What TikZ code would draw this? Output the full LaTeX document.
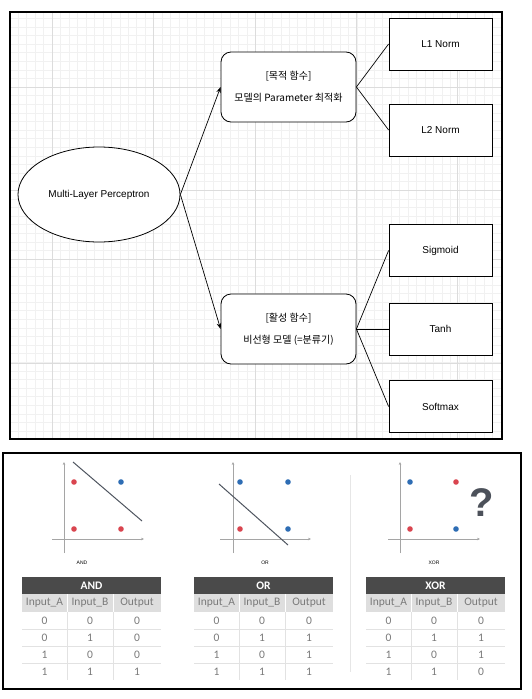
\documentclass[tikz,border=0pt]{standalone}
\usepackage{fontspec}
\setmainfont{Liberation Sans}
\newfontfamily\kr{Noto Sans CJK KR}
\newfontfamily\tb{Carlito}
\usetikzlibrary{shapes.geometric,arrows.meta}
\definecolor{gminor}{HTML}{F1F1F1}
\definecolor{gmajor}{HTML}{DCDCDC}
\definecolor{hdr}{HTML}{4A4A4A}
\definecolor{subbg}{HTML}{DEDEDE}
\definecolor{tbtext}{HTML}{7A7A7A}
\definecolor{sepline}{HTML}{E2E2E2}
\definecolor{dotred}{HTML}{D9454F}
\definecolor{dotblue}{HTML}{2E6DB4}
\definecolor{axisgray}{HTML}{A5A5A5}
\definecolor{sepgray}{HTML}{E6E6E6}
\definecolor{qcol}{HTML}{4C515A}
\definecolor{dline}{HTML}{4F5560}
\newcommand\logictable[7]{%
  \fill[hdr] (#1,577) rectangle ++(139,17);
  \node[hdrtxt] (#2-t) at (#1+69.5,585.7) {#3};
  \fill[subbg] (#1,594) rectangle ++(139,18);
  \draw[white, line width=1pt] (#1+45,594) -- ++(0,18);
  \draw[white, line width=1pt] (#1+91,594) -- ++(0,18);
  \node[tbtxt] (#2-ha) at (#1+22.5,603) {Input\_A};
  \node[tbtxt] (#2-hb) at (#1+68,603) {Input\_B};
  \node[tbtxt] (#2-ho) at (#1+115,603) {Output};
  \foreach \y in {629,646,663} {\draw[rowsep] (#1,\y) -- ++(139,0);}
  \draw[rowsep] (#1+45,612) -- ++(0,68);
  \draw[rowsep] (#1+91,612) -- ++(0,68);
  \foreach \a/\b/\o [count=\r] in {0/0/#4,0/1/#5,1/0/#6,1/1/#7} {
    \node[tbtxt] (#2-a\r) at (#1+22.5,604+17*\r) {\a};
    \node[tbtxt] (#2-b\r) at (#1+68,604+17*\r) {\b};
    \node[tbtxt] (#2-o\r) at (#1+115,604+17*\r) {\o};
  }
}
\begin{document}
\begin{tikzpicture}[x=1pt,y=-1pt,
  box/.style={draw=black, line width=0.8pt, fill=white, minimum width=103pt, minimum height=52pt, inner sep=0pt, font=\fontsize{10}{12}\selectfont},
  rbox/.style={draw=black, line width=0.8pt, fill=white, rounded corners=10pt, minimum width=135pt, minimum height=70pt, inner sep=0pt, align=center, font=\kr\fontsize{10}{12}\selectfont},
  ell/.style={draw=black, line width=0.8pt, fill=white, ellipse, minimum width=162pt, minimum height=95pt, inner sep=0pt, font=\fontsize{10}{12}\selectfont},
  conn/.style={draw=black, line width=0.7pt},
  arr/.style={conn, -{Stealth[length=6pt,width=4.5pt]}},
  hdrtxt/.style={text=white, font=\tb\bfseries\fontsize{11.5}{12}\selectfont, inner sep=0pt},
  tbtxt/.style={text=tbtext, font=\tb\fontsize{11.5}{12}\selectfont, inner sep=0pt},
  rowsep/.style={draw=sepline, line width=0.8pt},
  axis/.style={draw=axisgray, line width=0.9pt, -{Stealth[length=3pt,width=2.6pt]}},
  rdot/.style={fill=dotred},
  bdot/.style={fill=dotblue},
  dec/.style={draw=dline, line width=1pt},
  plab/.style={font=\fontsize{5}{6}\selectfont, inner sep=0pt}
]
\useasboundingbox (0,0) rectangle (532,699);
\fill[white] (0,0) rectangle (532,699);
% ---------- top panel grid ----------
\begin{scope}
\clip (10,12) rectangle (502,439);
\foreach \i in {-6,...,53} {\draw[gminor, line width=0.6pt] ({52+\i*8.475},12) -- ({52+\i*8.475},439);}
\foreach \i in {-10,...,45} {\draw[gminor, line width=0.6pt] (10,{87+\i*8.6}) -- (502,{87+\i*8.6});}
\foreach \x in {52,153,255,356,457} {\draw[gmajor, line width=0.7pt] (\x,12) -- (\x,439);}
\foreach \y in {87,190,259,363} {\draw[gmajor, line width=0.7pt] (10,\y) -- (502,\y);}
\end{scope}
\draw[black, line width=1.2pt] (10,12) rectangle (502,439);
% ---------- top panel nodes ----------
\node[ell] (mlp) at (99,194.5) {Multi-Layer Perceptron};
\node[rbox] (obj) at (288.5,87) {[목적 함수]\\[10pt]모델의 Parameter 최적화};
\node[rbox] (act) at (288.5,329) {[활성 함수]\\[10pt]비선형 모델 (=분류기)};
\node[box] (l1) at (440.5,44) {L1 Norm};
\node[box] (l2) at (440.5,130) {L2 Norm};
\node[box] (sig) at (440.5,250.5) {Sigmoid};
\node[box] (tanh) at (440.5,329) {Tanh};
\node[box] (soft) at (440.5,406.5) {Softmax};
\draw[arr] (mlp.east) -- (obj.west);
\draw[arr] (mlp.east) -- (act.west);
\draw[conn] (obj.east) -- (l1.west);
\draw[conn] (obj.east) -- (l2.west);
\draw[conn] (act.east) -- (sig.west);
\draw[conn] (act.east) -- (tanh.west);
\draw[conn] (act.east) -- (soft.west);
% ---------- bottom panel ----------
\draw[black, line width=1.2pt] (3,453) rectangle (521,689);
\draw[sepgray, line width=0.8pt] (350,475) -- (350,672);
% AND plot
\draw[axis] (64,553) -- (64,462);
\draw[axis] (52,539) -- (144,539);
\draw[dec] (73,462) -- (142,521);
\fill[rdot] (74,482) circle (2.8);
\fill[bdot] (121,482) circle (2.8);
\fill[rdot] (74,529) circle (2.8);
\fill[rdot] (121,529) circle (2.8);
\node[plab] (andlab) at (82,563) {AND};
% OR plot
\draw[axis] (233,553) -- (233,462);
\draw[axis] (220,539) -- (311,539);
\draw[dec] (219,484) -- (288,545);
\fill[bdot] (240,482) circle (2.8);
\fill[bdot] (288,482) circle (2.8);
\fill[rdot] (240,529) circle (2.8);
\fill[bdot] (288,529) circle (2.8);
\node[plab] (orlab) at (265,563) {OR};
% XOR plot
\draw[axis] (400,553) -- (400,462);
\draw[axis] (388,539) -- (480,539);
\fill[bdot] (410,482) circle (2.8);
\fill[rdot] (456,482) circle (2.8);
\fill[rdot] (410,529) circle (2.8);
\fill[bdot] (456,529) circle (2.8);
\node[plab] (xorlab) at (434,563) {XOR};
\node[text=qcol, font=\bfseries\fontsize{40}{42}\selectfont, inner sep=0pt] (q) at (482,503) {?};
% tables
\logictable{22}{tand}{AND}{0}{0}{0}{1}
\logictable{194}{tor}{OR}{0}{1}{1}{1}
\logictable{366}{txor}{XOR}{0}{1}{1}{0}
\end{tikzpicture}
\end{document}
